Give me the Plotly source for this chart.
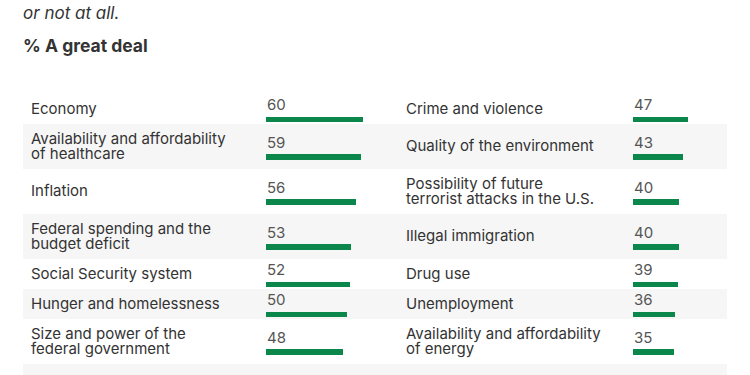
import plotly.graph_objects as go

# ---------------- data ----------------
left_labels = [
    "Economy",
    "Availability and affordability<br>of healthcare",
    "Inflation",
    "Federal spending and the<br>budget deficit",
    "Social Security system",
    "Hunger and homelessness",
    "Size and power of the<br>federal government",
    "Wage increases and wealth<br>inequality",
]
left_values = [60, 59, 56, 53, 52, 50, 48, 47]

right_labels = [
    "Crime and violence",
    "Quality of the environment",
    "Possibility of future<br>terrorist attacks in the U.S.",
    "Illegal immigration",
    "Drug use",
    "Unemployment",
    "Availability and affordability<br>of energy",
]
right_values = [47, 43, 40, 40, 39, 36, 35]

subtitle_tail = "or not at all."
measure_label = "% A great deal"

# ---------------- styling / layout ----------------
W, H = 750, 375
LINE = 15.0          # px per text line (y-axis unit)
TOP = 94.0           # px where first row starts
GREEN = "#0b874b"
BAND = "#f6f6f6"
TXT = "#333333"
NUM = "#555555"
FONT = "Inter"

n_rows = max(len(left_labels), len(right_labels))


def nlines(s):
    return s.count("<br>") + 1


row_tops, row_centers = [], []
acc = 0.0
for i in range(n_rows):
    ln = nlines(left_labels[i]) if i < len(left_labels) else 1
    if i < len(right_labels):
        ln = max(ln, nlines(right_labels[i]))
    h = ln + 1
    row_tops.append(acc)
    row_centers.append(acc + h / 2)
    acc += h
row_bottoms = row_tops[1:] + [acc]

BAR_OFF = 0.7
NUM_OFF = -0.27
LAB_OFF = -0.04

fig = go.Figure()
fig.add_trace(go.Bar(
    x=left_values, y=[row_centers[i] + BAR_OFF for i in range(len(left_values))],
    orientation="h", width=0.38, marker=dict(color=GREEN, line=dict(width=0)),
    xaxis="x", yaxis="y", hoverinfo="skip", showlegend=False,
))
fig.add_trace(go.Bar(
    x=right_values, y=[row_centers[i] + BAR_OFF for i in range(len(right_values))],
    orientation="h", width=0.38, marker=dict(color=GREEN, line=dict(width=0)),
    xaxis="x2", yaxis="y", hoverinfo="skip", showlegend=False,
))

shapes = []
for i in range(n_rows):
    if i % 2 == 1:
        shapes.append(dict(type="rect", xref="paper", yref="y",
                           x0=23 / W, x1=727 / W, y0=row_tops[i], y1=row_bottoms[i],
                           fillcolor=BAND, line=dict(width=0), layer="below"))

annotations = []


def add_label(text, xpx, center):
    lines = text.split("<br>")
    n = len(lines)
    for j, ln in enumerate(lines):
        annotations.append(dict(
            text=ln, xref="paper", yref="y", x=xpx / W,
            y=center + LAB_OFF + (j - (n - 1) / 2),
            xanchor="left", yanchor="middle", showarrow=False,
            borderpad=0, borderwidth=0,
            font=dict(family=FONT, size=15, color=TXT),
        ))


for i, lab in enumerate(left_labels):
    add_label(lab, 31, row_centers[i])
    annotations.append(dict(
        text=str(left_values[i]), xref="x", yref="y", x=0, y=row_centers[i] + NUM_OFF,
        xanchor="left", yanchor="middle", showarrow=False, borderpad=0,
        font=dict(family=FONT, size=15, color=NUM),
    ))
for i, lab in enumerate(right_labels):
    add_label(lab, 406, row_centers[i])
    annotations.append(dict(
        text=str(right_values[i]), xref="x2", yref="y", x=0, y=row_centers[i] + NUM_OFF,
        xanchor="left", yanchor="middle", showarrow=False, borderpad=0,
        font=dict(family=FONT, size=15, color=NUM),
    ))

annotations.append(dict(
    text="<i>" + subtitle_tail + "</i>", xref="paper", yref="paper", x=22 / W, y=1 - 13 / H,
    xanchor="left", yanchor="middle", showarrow=False, borderpad=0,
    font=dict(family=FONT, size=17, color=TXT),
))
annotations.append(dict(
    text="<b>" + measure_label + "</b>", xref="paper", yref="paper", x=22 / W, y=1 - 45 / H,
    xanchor="left", yanchor="middle", showarrow=False, borderpad=0,
    font=dict(family=FONT, size=17.5, color=TXT),
))

hidden = dict(showgrid=False, zeroline=False, showticklabels=False, showline=False,
              ticks="", fixedrange=True)
fig.update_layout(
    width=W, height=H, margin=dict(l=0, r=0, t=0, b=0),
    paper_bgcolor="white", plot_bgcolor="rgba(0,0,0,0)",
    xaxis=dict(domain=[266 / W, (266 + 161) / W], range=[0, 100], anchor="y", **hidden),
    xaxis2=dict(domain=[633 / W, (633 + 116) / W], range=[0, 100], anchor="y", **hidden),
    yaxis=dict(domain=[0, 1], range=[(H - TOP) / LINE, -TOP / LINE], anchor="x", **hidden),
    shapes=shapes, annotations=annotations, bargap=0,
)

fig.write_html("out.html", config={"displayModeBar": False},
               post_script="document.body.style.margin='0';document.body.style.overflow='hidden';")
